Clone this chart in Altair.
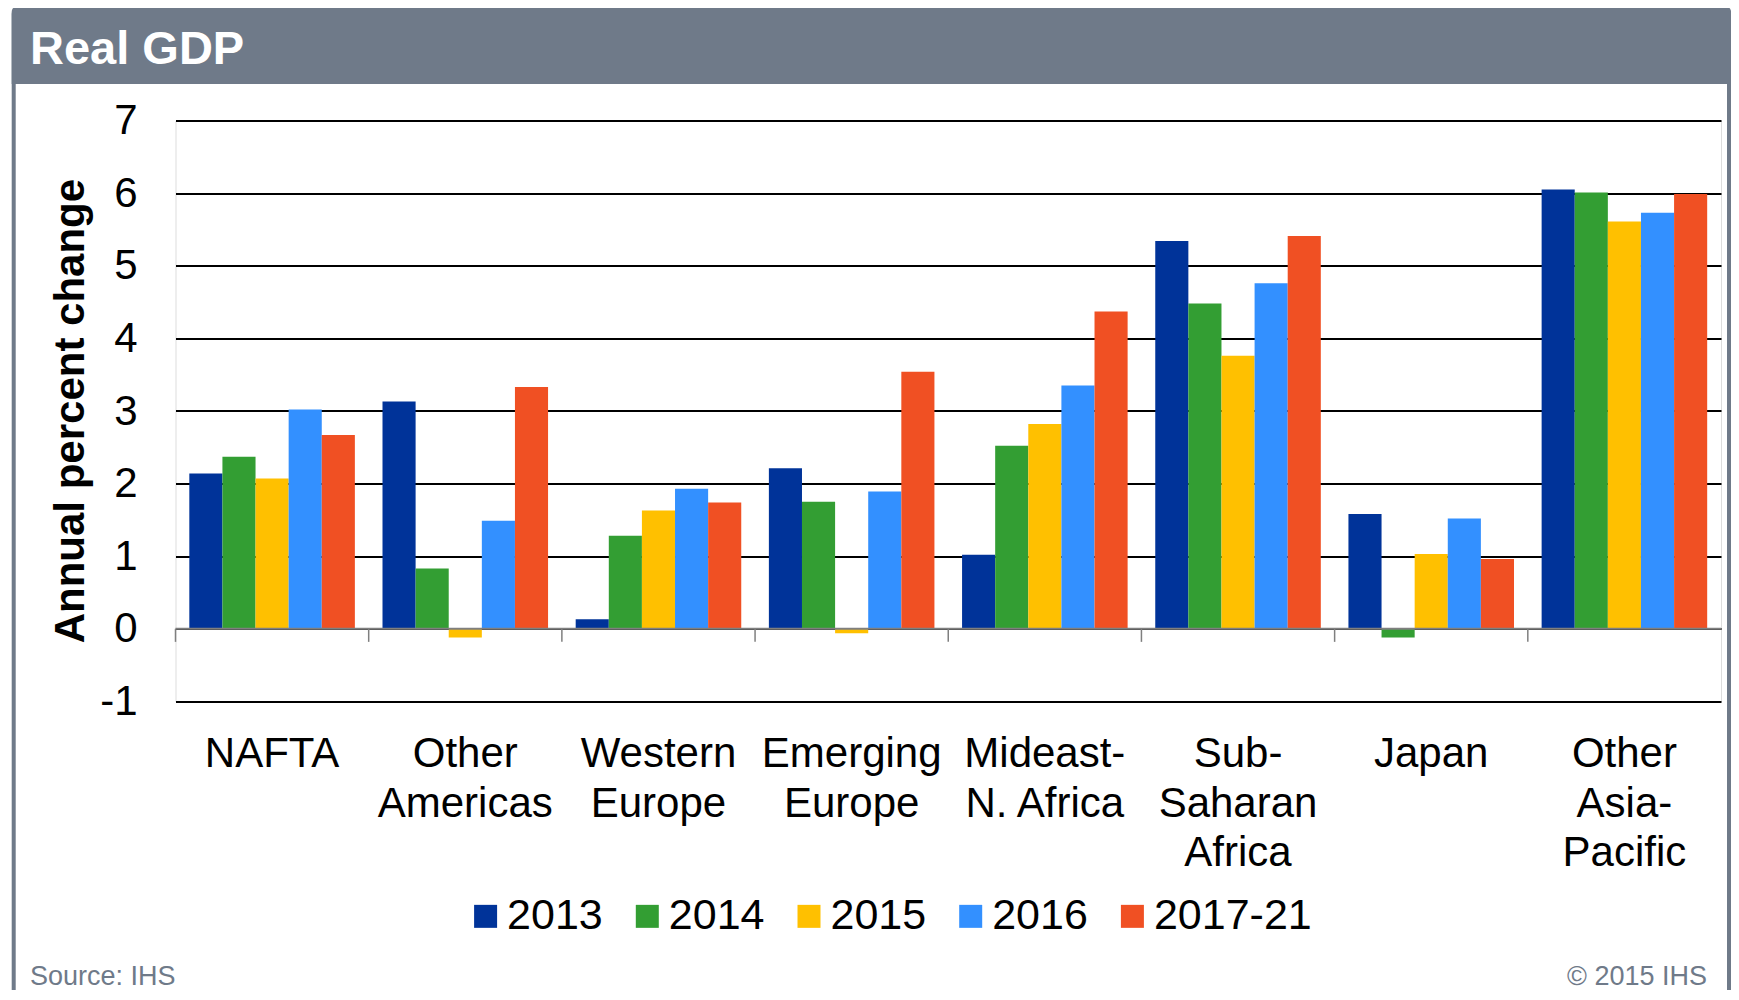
import altair as alt
import pandas as pd

# ---------------- data ----------------
regions = ["NAFTA", "Other\nAmericas", "Western\nEurope", "Emerging\nEurope",
           "Mideast-\nN. Africa", "Sub-\nSaharan\nAfrica", "Japan", "Other\nAsia-\nPacific"]
years = ["2013", "2014", "2015", "2016", "2017-21"]
colors = ["#003399", "#339E33", "#FFC000", "#3390FF", "#F05023"]

v2013 = [2.14, 3.13, 0.13, 2.21, 1.02, 5.34, 1.58, 6.05]
v2014 = [2.37, 0.83, 1.28, 1.75, 2.52, 4.48, -0.12, 6.01]
v2015 = [2.07, -0.12, 1.63, -0.06, 2.82, 3.76, 1.03, 5.61]
v2016 = [3.02, 1.49, 1.93, 1.89, 3.35, 4.76, 1.52, 5.73]
v2017 = [2.67, 3.33, 1.74, 3.54, 4.37, 5.41, 0.96, 5.99]

y_ticks = [-1, 0, 1, 2, 3, 4, 5, 6, 7]

title_text = "Real GDP"
y_title = "Annual percent change"
source_text = "Source: IHS"
copyright_text = "\u00a9 2015 IHS"

# ---------------- styling ----------------
FONT = "Liberation Sans"
FRAME = "#6F7A89"
W, H = 1545.5, 580.8
PAD = {"left": 167.5, "top": 112.6, "right": 10, "bottom": 288.6}
TICK_LEN = -0.18

series = [v2013, v2014, v2015, v2016, v2017]
rows = []
for y, vals in zip(years, series):
    for r, v in zip(regions, vals):
        rows.append({"region": r, "year": y, "value": v})
df = pd.DataFrame(rows)

one = pd.DataFrame({"k": [0]})

# frame & title bar
frame = alt.Chart(one).mark_rect(
    fillOpacity=0, stroke=FRAME, strokeWidth=4, cornerRadius=6
).encode(x=alt.value(-161.8), x2=alt.value(1553.5), y=alt.value(-112.6), y2=alt.value(1000))

title_bar = alt.Chart(one).mark_rect(
    color=FRAME, cornerRadiusTopLeft=6, cornerRadiusTopRight=6
).encode(x=alt.value(-163.8), x2=alt.value(1555.5), y=alt.value(-114.6), y2=alt.value(-36.6))

title = alt.Chart(pd.DataFrame({"t": [title_text]})).mark_text(
    font=FONT, fontSize=47, fontWeight="bold", color="white", align="left", baseline="alphabetic"
).encode(x=alt.value(-145.5), y=alt.value(-56.6), text="t:N")

src = alt.Chart(pd.DataFrame({"t": [source_text]})).mark_text(
    font=FONT, fontSize=27, color=FRAME, align="left", baseline="alphabetic"
).encode(x=alt.value(-145.5), y=alt.value(864), text="t:N")

cpy = alt.Chart(pd.DataFrame({"t": [copyright_text]})).mark_text(
    font=FONT, fontSize=27, color=FRAME, align="right", baseline="alphabetic"
).encode(x=alt.value(1531.5), y=alt.value(864), text="t:N")

bars = alt.Chart(df).mark_bar().encode(
    x=alt.X(
        "region:N", sort=regions,
        scale=alt.Scale(paddingInner=0.143, paddingOuter=0.0715),
        axis=alt.Axis(
            title=None, labelExpr="split(datum.label, '\\n')", labelAngle=0,
            labelFont=FONT, labelFontSize=42, labelColor="black",
            labelLineHeight=49.5, labelBaseline="alphabetic", labelPadding=65.3,
            labelLimit=400, ticks=False, tickSize=0, domain=False, grid=False,
        ),
    ),
    xOffset=alt.XOffset("year:N", sort=years, scale=alt.Scale(paddingInner=0, paddingOuter=0)),
    y=alt.Y(
        "value:Q",
        scale=alt.Scale(domain=[-1, 7], nice=False, zero=False),
        axis=alt.Axis(
            values=y_ticks, title=y_title, labelExpr="toString(datum.value)",
            labelFont=FONT, labelFontSize=42, labelColor="black", labelPadding=38.5,
            ticks=False, tickSize=0, domain=False,
            grid=True, gridColor="black", gridWidth=2,
            titleFont=FONT, titleFontSize=42, titleFontWeight="bold", titleColor="black",
            titleAngle=270, titleAlign="center", titleBaseline="alphabetic",
            titleX=-92, titleY=290,
        ),
    ),
    color=alt.Color(
        "year:N", sort=years,
        scale=alt.Scale(domain=years, range=colors),
        legend=alt.Legend(
            title=None, orient="none", legendX=288.6, legendY=774,
            direction="horizontal", symbolType="square", symbolSize=529,
            symbolStrokeWidth=0, symbolOpacity=1, labelFont=FONT, labelFontSize=43,
            labelColor="black", labelOffset=0, columnPadding=22.7, padding=0,
        ),
    ),
)

zero_line = alt.Chart(pd.DataFrame({"z": [0]})).mark_rule(
    color="#7F7F7F", strokeWidth=2
).encode(y="z:Q")

ticks = alt.Chart(pd.DataFrame({"region": regions})).mark_rule(
    color="#7F7F7F", strokeWidth=1.5
).encode(
    x=alt.X("region:N", sort=regions, bandPosition=0,
            scale=alt.Scale(paddingInner=0, paddingOuter=0), axis=None),
    y=alt.datum(0),
    y2=alt.datum(TICK_LEN),
)

chart = alt.layer(frame, title_bar, title, src, cpy, bars, zero_line, ticks).resolve_scale(
    x="independent"
).properties(
    width=W, height=H, padding=PAD, autosize=alt.AutoSizeParams(type="none"),
    background="white",
).configure_view(strokeWidth=0).configure(font=FONT)

chart.save("out.html", embed_options={"renderer": "svg", "actions": False})
